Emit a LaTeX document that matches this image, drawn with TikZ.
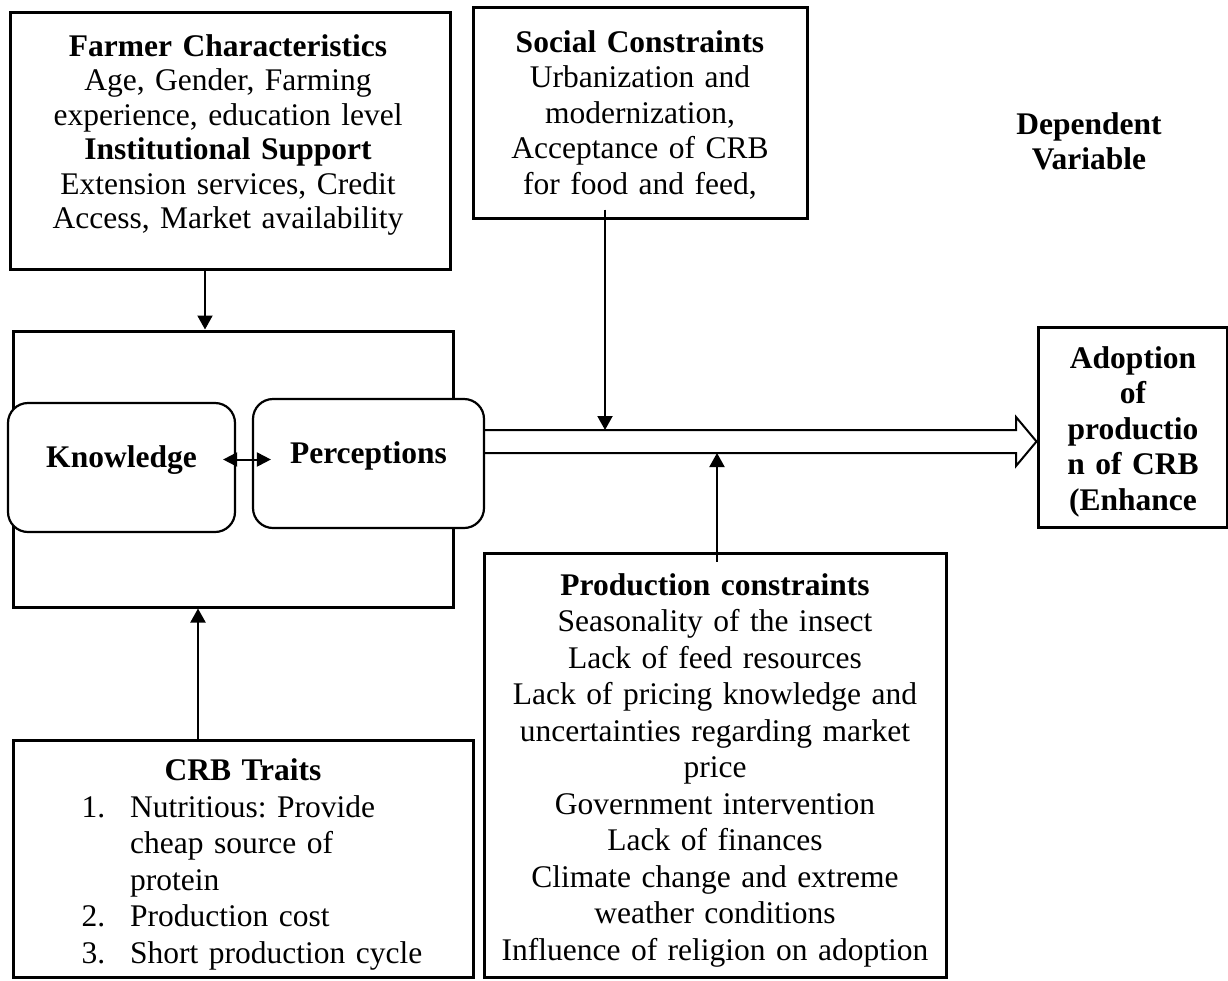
\documentclass[tikz,border=0pt]{standalone}
\usepackage{fontspec}
\setmainfont{Liberation Serif}
\usetikzlibrary{arrows.meta}
\frenchspacing

\tikzset{
  frame/.style={draw, line width=3pt, inner sep=0pt},
  roundbox/.style={draw, line width=2.2pt, rounded corners=20pt, fill=white, inner sep=0pt,
    text height=20pt, text depth=20pt, font=\bfseries\fontsize{31.5}{35.5}\selectfont},
  txt/.style={inner sep=0pt, anchor=base, align=center, text width=460pt,
    font=\fontsize{31.5}{35.5}\selectfont},
  arr/.style={line width=2pt, -{Triangle[length=14pt, width=15pt]}},
  duo/.style={line width=2pt, {Triangle[length=14pt, width=14pt]}-{Triangle[length=14pt, width=14pt]}},
  flow/.style={line width=2pt, line join=miter}
}

\begin{document}
\begin{tikzpicture}[x=1pt, y=-1pt]
    \useasboundingbox (0,0) rectangle (1228,980);
    % Top boxes
    \node[frame, minimum width=440pt, minimum height=257pt] (farmer) at (230,140.5) {};
    \node[txt, font=\fontsize{31.5}{34.5}\selectfont] (farmertxt) at (228,56)
      {\textbf{Farmer Characteristics}\\Age, Gender, Farming\\experience, education level\\
       \textbf{Institutional Support}\\Extension services, Credit\\Access, Market availability};
    \node[frame, minimum width=334pt, minimum height=211pt] (soc) at (640,112.5) {};
    \node[txt] (soctxt) at (640,52)
      {\textbf{Social Constraints}\\Urbanization and\\modernization,\\Acceptance of CRB\\for food and feed,};
    \node[txt, font=\bfseries\fontsize{31.5}{35.5}\selectfont] (dep) at (1089,134) {Dependent\\Variable};
    % Middle part
    \node[frame, minimum width=440pt, minimum height=276pt] (core) at (233,469) {};
    \node[roundbox, minimum width=227pt, minimum height=129pt] (know) at (121.5,467.5) {Knowledge};
    \node[roundbox, minimum width=231pt, minimum height=129pt] (perc) at (368.5,463.5) {Perceptions};
    \node[frame, minimum width=189pt, minimum height=200pt] (adopt) at (1132.5,427) {};
    \node[txt, font=\bfseries\fontsize{31.5}{35.5}\selectfont] (adopttxt) at (1133,368)
      {Adoption\\of\\productio\\n of CRB\\(Enhance};
    \coordinate (ftop) at (1016,430);
    \coordinate (fbot) at (1016,453);
    \draw[flow] (perc.east |- ftop) -- (ftop) -- (1016,417) -- (adopt.west |- 0,441.5)
      -- (1016,466) -- (fbot) -- (perc.east |- fbot);
    \draw[duo] ([xshift=-13pt, yshift=8pt]know.east) -- ([xshift=19pt, yshift=8pt]know.east -| perc.west);
    % Bottom boxes
    \node[frame, minimum width=462pt, minimum height=424.5pt] (prod) at (715,765.25) {};
    \node[txt, font=\fontsize{31.5}{36.5}\selectfont] (prodtxt) at (715,595)
      {\textbf{Production constraints}\\Seasonality of the insect\\Lack of feed resources\\
       Lack of pricing knowledge and\\uncertainties regarding market\\price\\Government intervention\\
       Lack of finances\\Climate change and extreme\\weather conditions\\Influence of religion on adoption};
    \node[frame, minimum width=460pt, minimum height=237.5pt] (crb) at (243,858.75) {};
    \node[txt, font=\bfseries\fontsize{31.5}{36.5}\selectfont] (crbtxt) at (243,780) {CRB Traits};
    \node[txt, anchor=base west, align=left, font=\fontsize{31.5}{36.6}\selectfont] (crblist) at (77,817)
      {\makebox[28pt][r]{1.}\hspace{25pt}Nutritious: Provide\\
       \hspace{53pt}cheap source of\\
       \hspace{53pt}protein\\
       \makebox[28pt][r]{2.}\hspace{25pt}Production cost\\
       \makebox[28pt][r]{3.}\hspace{25pt}Short production cycle};
    % Connectors
    \draw[arr] ([xshift=-25pt]farmer.south) -- ([xshift=-25pt]farmer.south |- core.north);
    \draw[arr] ([xshift=-35pt, yshift=10pt]soc.south) -- ([xshift=-35pt]soc.south |- ftop);
    \draw[arr] ([xshift=2pt, yshift=-10pt]prod.north) -- ([xshift=2pt]prod.north |- fbot);
    \draw[arr] ([xshift=-45pt]crb.north) -- ([xshift=-45pt]crb.north |- core.south);
\end{tikzpicture}
\end{document}
